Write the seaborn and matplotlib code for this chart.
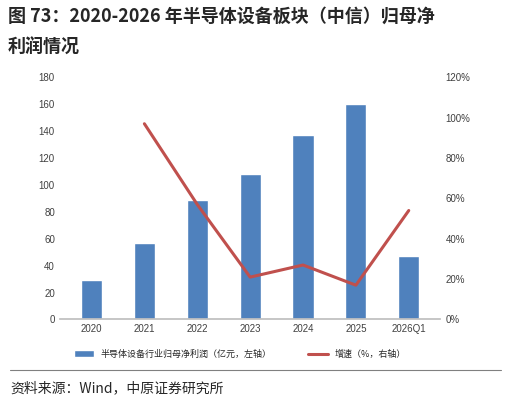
import matplotlib
matplotlib.use("Agg")
import matplotlib.pyplot as plt
import seaborn as sns
import pandas as pd
import numpy as np

years = ["2020", "2021", "2022", "2023", "2024", "2025", "2026Q1"]
profit = [29, 57, 89, 108, 137, 160, 47]
growth_years = ["2021", "2022", "2023", "2024", "2025", "2026Q1"]
growth = [97, 57, 21, 27, 17, 54]

sns.set_theme(style="white")
plt.rcParams['font.family'] = ['Noto Sans CJK SC', 'DejaVu Sans']
tickfont = ['Liberation Sans', 'DejaVu Sans']

fig = plt.figure(figsize=(5.11, 4.07), dpi=100)
ax = fig.add_axes([0.117, 0.215, 0.745, 0.595])
df = pd.DataFrame({"year": years, "profit": profit})
sns.barplot(data=df, x="year", y="profit", color="#4f81bd", saturation=1, width=0.4, ax=ax,
            label="半导体设备行业归母净利润（亿元，左轴）")
ax.set_ylim(0, 180)
ax.set_yticks(range(0, 181, 20))
ax.set_xlabel(""); ax.set_ylabel("")
ax.tick_params(labelsize=7, colors="#404040", length=0)
for s in ["top", "right", "left"]:
    ax.spines[s].set_visible(False)
ax.spines["bottom"].set_color("#bfbfbf")

ax2 = ax.twinx()
xpos = [years.index(y) for y in growth_years]
sns.lineplot(x=xpos, y=growth, color="#c0504d", linewidth=2.2, ax=ax2, label="增速（%，右轴）")
ax2.set_ylim(0, 120)
ax2.set_yticks(range(0, 121, 20))
ax2.set_yticklabels([f"{v}%" for v in range(0, 121, 20)])
ax2.tick_params(labelsize=7, colors="#404040", length=0)
for s in ["top", "right", "left", "bottom"]:
    ax2.spines[s].set_visible(False)
ax.set_xlim(-0.6, 6.6)
for lab in ax.get_xticklabels() + ax.get_yticklabels() + ax2.get_yticklabels():
    lab.set_family(tickfont)

h1, l1 = ax.get_legend_handles_labels()
h2, l2 = ax2.get_legend_handles_labels()
ax2.get_legend().remove()
if ax.get_legend(): ax.get_legend().remove()
fig.legend(h1 + h2, l1 + l2, loc="center", bbox_to_anchor=(0.47, 0.13), ncol=2, frameon=False,
           fontsize=6.5, handlelength=2.2, columnspacing=4)

fig.text(0.015, 0.96, "图 73：2020-2026 年半导体设备板块（中信）归母净", fontsize=13,
         fontweight="bold", va="center", ha="left")
fig.text(0.015, 0.885, "利润情况", fontsize=13, fontweight="bold", va="center", ha="left")
fig.lines.append(plt.Line2D([0.02, 0.98], [0.09, 0.09], transform=fig.transFigure, color="#808080", lw=0.8))
fig.text(0.02, 0.045, "资料来源：Wind，中原证券研究所", fontsize=10, va="center", ha="left")
fig.savefig("out.png", dpi=100)
